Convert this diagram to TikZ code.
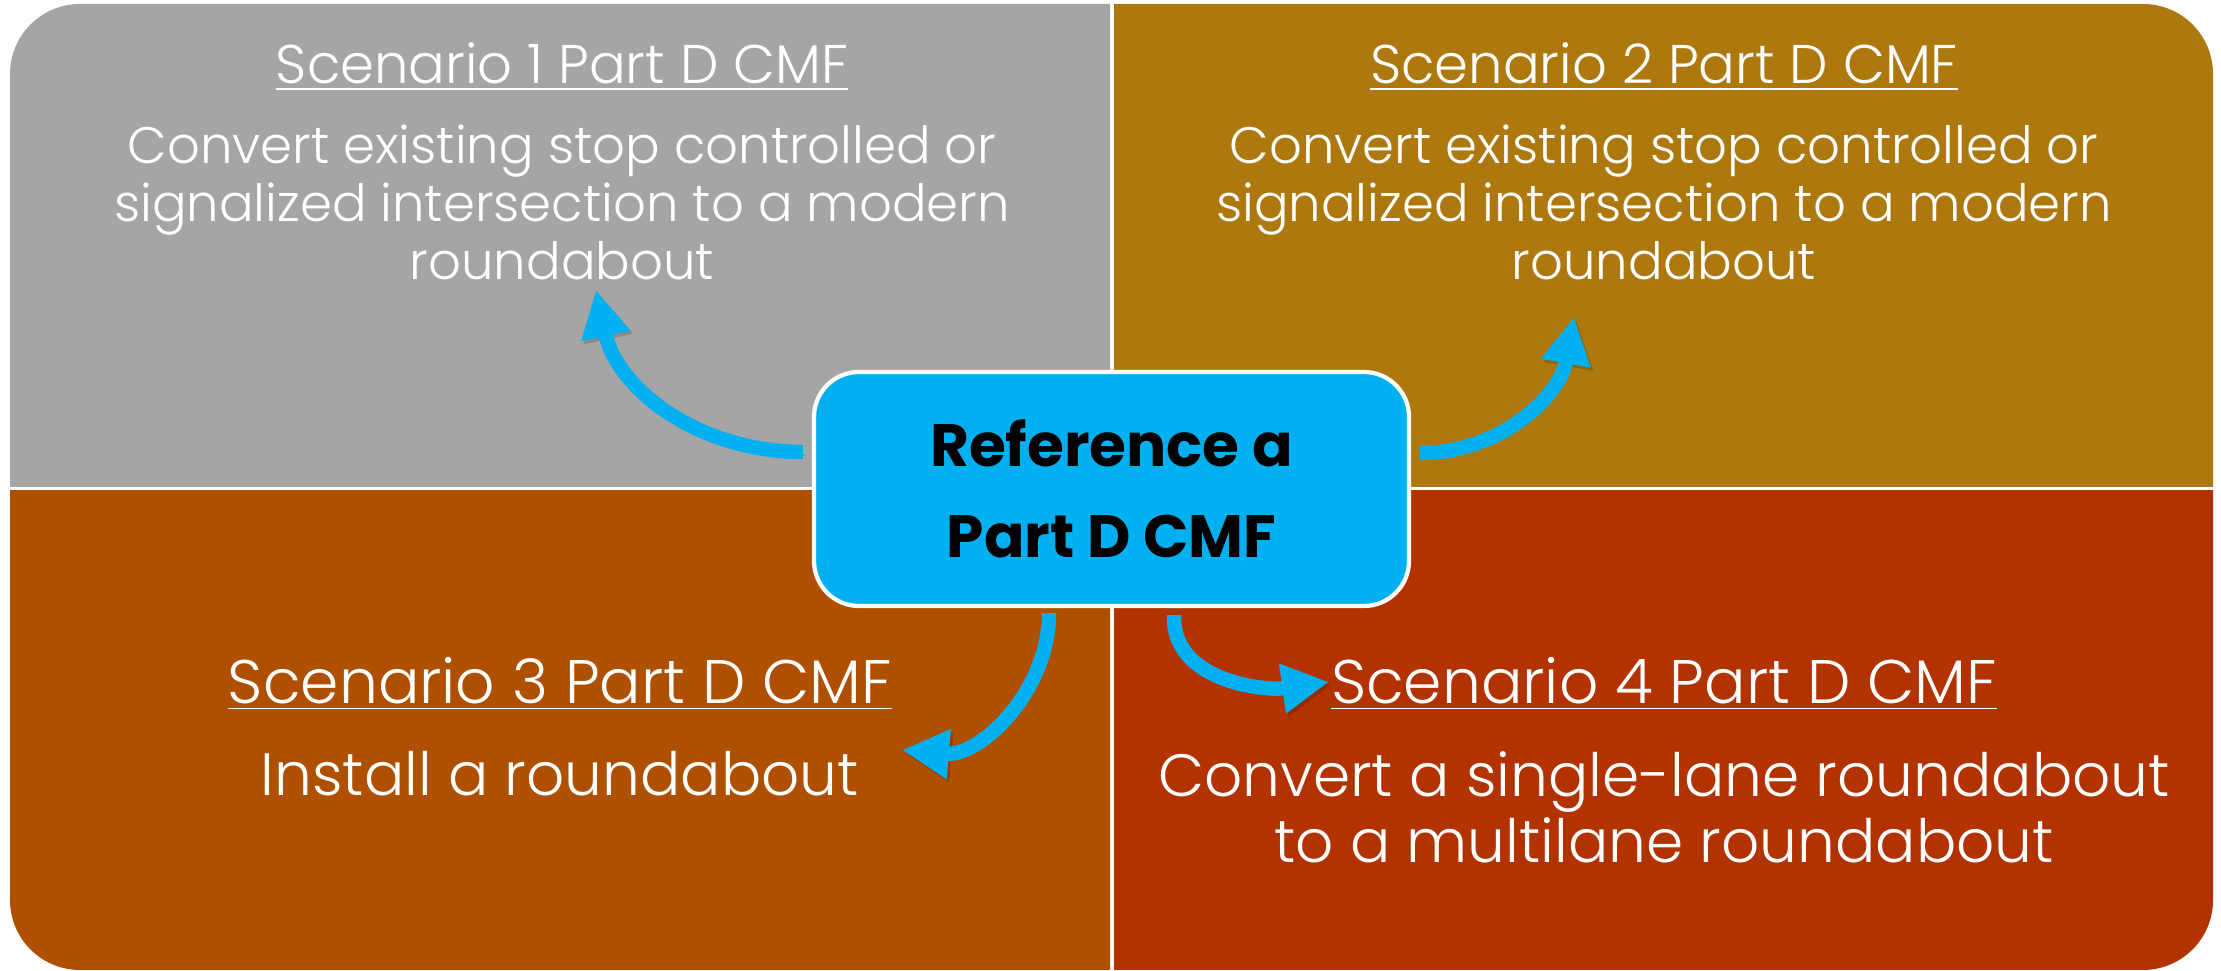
\documentclass[tikz,border=0pt]{standalone}
\usepackage{fontspec}
\setmainfont{Poppins}[UprightFont={* Light}, BoldFont={* Bold}]
\usetikzlibrary{arrows.meta,positioning}
\definecolor{sceneA}{HTML}{A5A5A5}
\definecolor{sceneB}{HTML}{AD780E}
\definecolor{sceneC}{HTML}{AE5000}
\definecolor{sceneD}{HTML}{B23300}
\definecolor{refblue}{HTML}{00B0F0}

\begin{document}
\begin{tikzpicture}[
  head/.style={text=white, inner sep=1pt, font=\fontsize{15.5}{17}\selectfont},
  body/.style={text=white, align=center, inner sep=1pt, font=\fontsize{14.6}{16.5}\selectfont},
  bighead/.style={head, font=\fontsize{17.5}{20}\selectfont},
  bigbody/.style={body, font=\fontsize{17}{18.8}\selectfont},
  hub/.style={draw=white, line width=1.2pt, fill=refblue, rounded corners=0.45cm,
              minimum width=5.95cm, minimum height=2.34cm, align=center,
              font=\bfseries\fontsize{17}{26}\selectfont},
  curl/.style={draw=refblue, line width=4.1pt, -{Triangle[width=4.7mm,length=4.7mm]},
               preaction={draw=black, opacity=0.16, transform canvas={shift={(0.7pt,-0.9pt)}}}}
]
\useasboundingbox (0,0) rectangle (22.21,9.71);

% four coloured panels, only the outer corner of each is rounded
\foreach \xa/\xb/\ya/\yb/\col in {0.10/11.10/4.84/9.67/sceneA, 11.14/22.13/4.84/9.67/sceneB,
                                  0.10/11.10/0.01/4.80/sceneC, 11.14/22.13/0.01/4.80/sceneD}{
  \begin{scope}
    \clip (\xa,\ya) rectangle (\xb,\yb);
    \fill[\col, rounded corners=0.7cm] (0.10,0.01) rectangle (22.13,9.67);
  \end{scope}
}

% panel texts
\node[head] (h1) at (5.62,9.04) {\underline{Scenario 1 Part D CMF}};
\node[body, below=0.25cm of h1] (b1) {Convert existing stop controlled or\\signalized intersection to a modern\\roundabout};
\node[head] (h2) at (16.64,9.04) {\underline{Scenario 2 Part D CMF}};
\node[body, below=0.25cm of h2] (b2) {Convert existing stop controlled or\\signalized intersection to a modern\\roundabout};
\node[bighead] (h3) at (5.60,2.87) {\underline{Scenario 3 Part D CMF}};
\node[bigbody, below=0.32cm of h3] (b3) {Install a roundabout};
\node[bighead] (h4) at (16.64,2.87) {\underline{Scenario 4 Part D CMF}};
\node[bigbody, below=0.32cm of h4] (b4) {Convert a single-lane roundabout\\to a multilane roundabout};

% centre box
\node[hub] (ref) at (11.115,4.82) {Reference a\\Part D CMF};

% arrow ends
\coordinate (tipA) at (5.96,6.81);
\coordinate (tipB) at (15.74,6.54);
\coordinate (tipC) at (9.02,2.21);
\coordinate (tipD) at (13.29,2.89);

\draw[curl] ([shift={(-0.09,0.37)}]ref.west) to[out=180, in=-78] (tipA);
\draw[curl] ([shift={(0.09,0.36)}]ref.east) to[out=0, in=-100] (tipB);
\draw[curl] ([shift={(-0.625,-0.05)}]ref.south) to[out=-90, in=-5] (tipC);
\draw[curl] ([shift={(0.625,-0.07)}]ref.south) to[out=-92, in=188] (tipD);
\end{tikzpicture}
\end{document}
